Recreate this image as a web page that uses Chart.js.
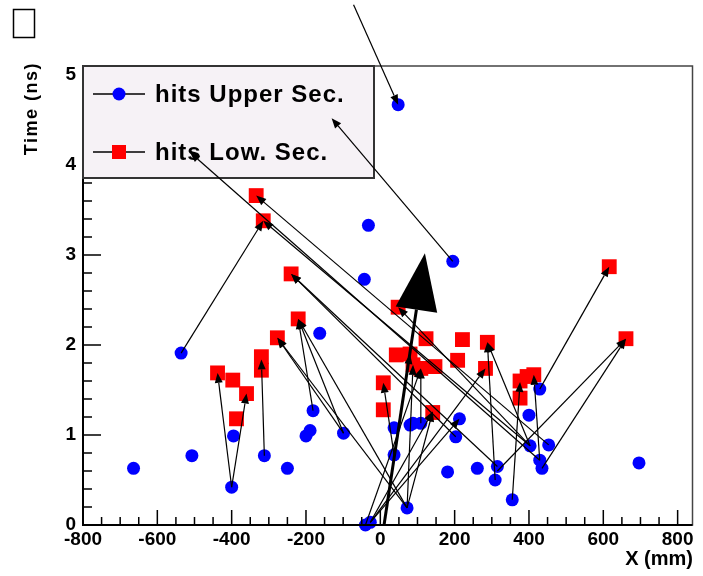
<!DOCTYPE html>
<html>
<head>
<meta charset="utf-8">
<script src="https://cdn.jsdelivr.net/npm/chart.js@4.4.1/dist/chart.umd.min.js"></script>
<style>
  body { margin: 0; background: #fff; }
</style>
</head>
<body>
<canvas id="hits" width="703" height="576"></canvas>
<script>
// hits in the upper section (blue circles)
const upperX = [48, 195, -32, -43, -536, -163, -181, -189, -200, -99, -664, -507, -395, -400, -312, -250,
  37, 80, 109, 88, 37, 72, -40, -27, 181, 213, 203, 261, 315, 309, 355, 400, 429, 403, 453, 429, 435, 696];
const upperY = [4.67, 2.93, 3.33, 2.73, 1.91, 2.13, 1.27, 1.05, 0.99, 1.02, 0.63, 0.77, 0.99, 0.42, 0.77, 0.63,
  1.08, 1.11, 1.13, 1.13, 0.78, 0.19, 0.0, 0.03, 0.59, 1.18, 0.98, 0.63, 0.65, 0.5, 0.28, 1.22, 1.51, 0.88, 0.89, 0.72, 0.63, 0.69];

// hits in the lower section (red squares)
const lowerX = [-334, -315, -240, -221, -277, -320, -320, -438, -397, -360, -387, 48, 123, 221, 288, 43, 80,
  88, 109, 147, 208, 283, 8, 8, 141, 376, 395, 413, 376, 661, 616];
const lowerY = [3.66, 3.38, 2.79, 2.29, 2.08, 1.87, 1.72, 1.69, 1.61, 1.46, 1.18, 2.42, 2.07, 2.06, 2.03, 1.89, 1.9,
  1.78, 1.74, 1.76, 1.83, 1.74, 1.58, 1.28, 1.25, 1.6, 1.65, 1.67, 1.41, 2.07, 2.87];

// arrows between hits: tail -> head
const tailX = [-72, 195, 429, 453, 403, 315, -181, -99, -99, -536, -312, -400, -400, -27, -27, 72, 72, 37, 403, 309, 355, 429, 429, 315, 435, 72, 403, 203, 109,
  72, -27, -40, 37];
const tailY = [5.78, 2.93, 0.72, 0.89, 0.88, 0.65, 1.27, 1.02, 1.02, 1.91, 0.77, 0.42, 0.42, 0.03, 0.03, 0.19, 0.19, 0.78, 0.88, 0.5, 0.28, 0.72, 1.51, 0.6, 0.63, 0.19, 0.88, 0.98, 1.13,
  0.19, 0.03, 0.0, 0.78];
const headX = [48, -131, -512, -334, -315, -240, -221, -221, -277, -315, -320, -438, -360, 283, 141, 141, 88, 8, 48, 288, 376, 413, 616, 661, 661, -221, 288, -240, 109,
  -277, 213, 109, 80];
const headY = [4.67, 4.52, 4.14, 3.66, 3.38, 2.79, 2.29, 2.29, 2.08, 3.38, 1.84, 1.69, 1.46, 1.74, 1.26, 1.26, 1.78, 1.58, 2.42, 2.03, 1.59, 1.67, 2.87, 2.07, 2.07, 2.29, 2.03, 2.79, 1.74,
  2.08, 1.18, 1.74, 1.9];

// the big arrow
const bigTail = [10, 0.0];
const bigHead = [120, 3.02];

const xTickValues = [-800, -600, -400, -200, 0, 200, 400, 600, 800];
const yTickValues = [0, 1, 2, 3, 4, 5];
const legendLabels = ['hits Upper Sec.', 'hits Low. Sec.'];

const toPoints = (xs, ys) => xs.map((x, i) => ({ x: x, y: ys[i] }));

function drawArrow(ctx, x0, y0, x1, y1, len, half, width) {
  const dx = x1 - x0, dy = y1 - y0;
  const d = Math.hypot(dx, dy) || 1;
  const ux = dx / d, uy = dy / d;
  const bx = x1 - ux * len, by = y1 - uy * len;
  ctx.lineWidth = width;
  ctx.beginPath();
  ctx.moveTo(x0, y0);
  ctx.lineTo(bx, by);
  ctx.stroke();
  ctx.beginPath();
  ctx.moveTo(x1, y1);
  ctx.lineTo(bx - uy * half, by + ux * half);
  ctx.lineTo(bx + uy * half, by - ux * half);
  ctx.closePath();
  ctx.fill();
}

const overlay = {
  id: 'overlay',
  afterDatasetsDraw(chart) {
    const ctx = chart.ctx;
    const xs = chart.scales.x, ys = chart.scales.y;
    const a = chart.chartArea;
    ctx.save();

    // frame
    ctx.strokeStyle = '#444';
    ctx.lineWidth = 1.5;
    ctx.strokeRect(a.left, a.top, a.right - a.left, a.bottom - a.top);
    ctx.strokeStyle = '#000';
    ctx.lineWidth = 2;
    ctx.beginPath();
    ctx.moveTo(a.left, a.top);
    ctx.lineTo(a.left, a.bottom);
    ctx.lineTo(a.right, a.bottom);
    ctx.stroke();

    // inward ticks
    ctx.lineWidth = 1.5;
    ctx.beginPath();
    for (let i = 0; i <= 32; i++) {
      const v = -800 + i * 50;
      const px = xs.getPixelForValue(v);
      const len = i % 4 === 0 ? 15 : 8;
      ctx.moveTo(px, a.bottom);
      ctx.lineTo(px, a.bottom - len);
    }
    for (let i = 0; i <= 25; i++) {
      const py = ys.getPixelForValue(i * 0.2);
      const len = i % 5 === 0 ? 18 : 9;
      ctx.moveTo(a.left, py);
      ctx.lineTo(a.left + len, py);
    }
    ctx.stroke();

    // legend box
    const lx = a.left, ly = a.top, lw = 291, lh = 112;
    ctx.fillStyle = '#f6f2f6';
    ctx.fillRect(lx, ly, lw, lh);
    ctx.strokeStyle = '#333';
    ctx.lineWidth = 2;
    ctx.strokeRect(lx, ly, lw, lh);
    const rows = [ly + 28, ly + 86];
    ctx.font = 'bold 24px "Liberation Sans", Arial, sans-serif';
    ctx.textBaseline = 'middle';
    if ('letterSpacing' in ctx) ctx.letterSpacing = '1px';
    rows.forEach((ry, i) => {
      ctx.strokeStyle = '#000';
      ctx.lineWidth = 1.5;
      ctx.beginPath();
      ctx.moveTo(lx + 10, ry);
      ctx.lineTo(lx + 62, ry);
      ctx.stroke();
      if (i === 0) {
        ctx.fillStyle = '#0000ff';
        ctx.beginPath();
        ctx.arc(lx + 36, ry, 6.5, 0, Math.PI * 2);
        ctx.fill();
      } else {
        ctx.fillStyle = '#ff0000';
        ctx.fillRect(lx + 29, ry - 7, 14, 14);
      }
      ctx.fillStyle = '#000';
      ctx.fillText(legendLabels[i], lx + 72, ry + 1);
    });
    if ('letterSpacing' in ctx) ctx.letterSpacing = '0px';

    // arrows
    ctx.strokeStyle = '#000';
    ctx.fillStyle = '#000';
    for (let i = 0; i < tailX.length; i++) {
      drawArrow(ctx,
        xs.getPixelForValue(tailX[i]), ys.getPixelForValue(tailY[i]),
        xs.getPixelForValue(headX[i]), ys.getPixelForValue(headY[i]),
        10, 4, 1.2);
    }
    drawArrow(ctx,
      xs.getPixelForValue(bigTail[0]), ys.getPixelForValue(bigTail[1]),
      xs.getPixelForValue(bigHead[0]), ys.getPixelForValue(bigHead[1]),
      57, 21, 3);

    // missing-glyph box in the corner
    ctx.strokeStyle = '#000';
    ctx.lineWidth = 1.5;
    ctx.strokeRect(13.5, 9.5, 21, 28);

    // axis titles
    ctx.fillStyle = '#000';
    ctx.font = 'bold 20px "Liberation Sans", Arial, sans-serif';
    ctx.textAlign = 'right';
    ctx.textBaseline = 'middle';
    ctx.fillText('X (mm)', 693, 559);
    ctx.save();
    ctx.translate(32, a.top - 4);
    ctx.rotate(-Math.PI / 2);
    ctx.font = 'bold 18px "Liberation Sans", Arial, sans-serif';
    if ('letterSpacing' in ctx) ctx.letterSpacing = '1.5px';
    ctx.fillText('Time (ns)', 0, 0);
    ctx.restore();

    ctx.restore();
  }
};

new Chart(document.getElementById('hits'), {
  type: 'scatter',
  data: {
    datasets: [
      {
        label: legendLabels[0],
        data: toPoints(upperX, upperY),
        pointStyle: 'circle',
        pointRadius: 6.5,
        pointHoverRadius: 6.5,
        backgroundColor: '#0000ff',
        borderWidth: 0,
        clip: false
      },
      {
        label: legendLabels[1],
        data: toPoints(lowerX, lowerY),
        pointStyle: 'rect',
        pointRadius: 10.5,
        pointHoverRadius: 10.5,
        backgroundColor: '#ff0000',
        borderWidth: 0,
        clip: false
      }
    ]
  },
  options: {
    responsive: false,
    animation: false,
    devicePixelRatio: 1,
    layout: { padding: { top: 66, right: 6, left: 0, bottom: 0 } },
    plugins: { legend: { display: false }, tooltip: { enabled: false } },
    scales: {
      x: {
        type: 'linear',
        min: -800,
        max: 840,
        grid: { display: false, drawTicks: false },
        border: { display: false },
        afterBuildTicks: s => { s.ticks = xTickValues.map(v => ({ value: v })); },
        afterFit: s => { s.height = 51; },
        ticks: {
          padding: 3,
          maxRotation: 0,
          color: '#000',
          font: { family: '"Liberation Sans", Arial, sans-serif', size: 19, weight: 'bold' }
        }
      },
      y: {
        type: 'linear',
        min: 0,
        max: 5.1,
        grid: { display: false, drawTicks: false },
        border: { display: false },
        afterBuildTicks: s => { s.ticks = yTickValues.map(v => ({ value: v })); },
        afterFit: s => { s.width = 83; },
        ticks: {
          padding: 7,
          color: '#000',
          font: { family: '"Liberation Sans", Arial, sans-serif', size: 19, weight: 'bold' }
        }
      }
    }
  },
  plugins: [overlay]
});
</script>
</body>
</html>
